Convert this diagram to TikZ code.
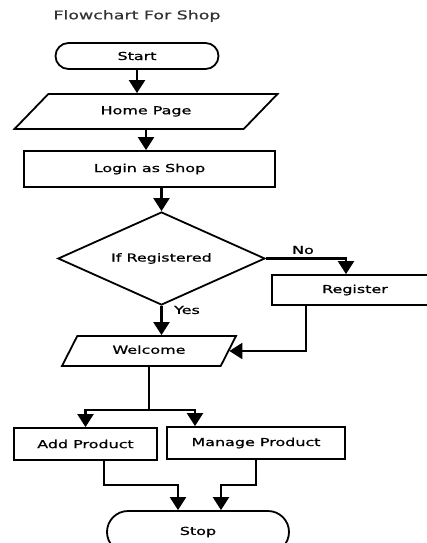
\documentclass[tikz,border=0pt]{standalone}
\usepackage{fontspec}
\setmainfont[FakeStretch=1.45,FakeBold=0.8]{DejaVu Sans}
\usetikzlibrary{arrows.meta,shapes.geometric,shapes.misc}

\tikzset{
    startstop/.style={rounded rectangle, draw, line width=1.8pt, inner sep=0pt},
    iobox/.style={trapezium, trapezium stretches body, draw, line width=1.8pt,
                  inner xsep=0pt, text height=8pt, text depth=2.5pt},
    procbox/.style={rectangle, draw, line width=1.8pt, inner sep=0pt},
    decbox/.style={diamond, aspect=2.2, draw, line width=1.8pt, inner sep=0pt},
    flowarrow/.style={line width=2.2pt, -{Triangle[width=16pt,length=13pt]}},
    flowline/.style={line width=2.2pt}
}

\begin{document}
\begin{tikzpicture}[x=1pt,y=-1pt,font=\fontsize{11}{13}\selectfont]
    \useasboundingbox (0,0) rectangle (427,543);
    \clip (0,0) rectangle (427,543);

    % Title:
    \node[font=\fontsize{12}{14}\selectfont, text=black!80] (title) at (137,16) {Flowchart For Shop};

    % Boxes:
    \node[startstop, minimum width=163pt, minimum height=26pt] (start) at (137,56) {Start};
    \node[iobox, trapezium left angle=46, trapezium right angle=134, inner ysep=12.25pt,
          minimum width=263pt] (home) at (146,111.5) {Home Page};
    \node[procbox, minimum width=251pt, minimum height=36pt] (login) at (149.5,169) {Login as Shop};
    \node[decbox, minimum width=207pt, minimum height=93pt] (registered) at (161.5,258.5) {If Registered};
    \node[procbox, minimum width=166pt, minimum height=30pt] (register) at (355,290) {Register};
    \node[iobox, trapezium left angle=63, trapezium right angle=117, inner ysep=9.75pt,
          minimum width=174pt] (welcome) at (149,351) {Welcome};
    \node[procbox, minimum width=143pt, minimum height=32pt] (addprod) at (85.5,444) {Add Product};
    \node[procbox, minimum width=178pt, minimum height=32pt] (manageprod) at (256,443) {Manage Product};
    \node[startstop, minimum width=182pt, minimum height=42pt] (stop) at (198,532) {Stop};

    % Connectors:
    \draw[flowarrow] (start.south) -- (start.south |- home.north);
    \draw[flowarrow] (home.south) -- (home.south |- login.north);
    \draw[flowarrow] (registered.north |- login.south) -- (registered.north);
    \draw[flowarrow] (registered.south) -- (registered.south |- welcome.north);
    \draw[flowarrow] (registered.east) -| ([xshift=-9pt]register.north);
    \draw[flowarrow] ([xshift=35pt]register.south west) |- (welcome.east);

    % split below Welcome:
    \coordinate (split) at (welcome.south |- 0,410);
    \draw[flowline] (welcome.south) -- (split);
    \draw[flowarrow] (split) -| (addprod.north);
    \draw[flowarrow] (split) -| ([xshift=-61pt]manageprod.north);

    % join into Stop:
    \draw[flowarrow] ([xshift=18.5pt]addprod.south) -- ++(0,24) -| ([xshift=-20pt]stop.north);
    \draw[flowarrow] (manageprod.south) -- ++(0,25) -| ([xshift=23pt]stop.north);

    % Labels:
    \node (yes) at (187,310) {Yes};
    \node (no) at (303,250) {No};
\end{tikzpicture}
\end{document}
